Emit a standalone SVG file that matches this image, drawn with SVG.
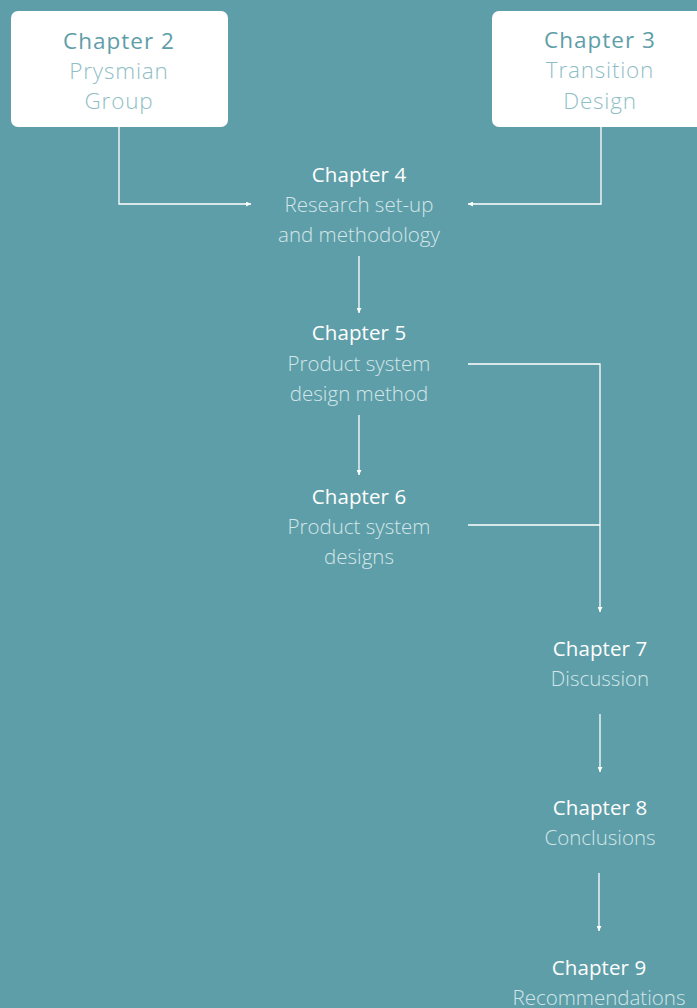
<svg xmlns="http://www.w3.org/2000/svg" width="697" height="1008" viewBox="0 0 697 1008">
  <style>
    .bg { fill: #5e9ea8; }
    .box { fill: #ffffff; }
    .t { font-family: "Open Sans", "Noto Sans", sans-serif; text-anchor: middle; }
    .h { font-size: 20.5px; font-weight: 400; fill: #ffffff; letter-spacing: 0.1px; }
    .s { font-size: 20.5px; font-weight: 300; fill: #d3e6e9; letter-spacing: 0px; }
    .hb { font-size: 22.5px; font-weight: 400; fill: #5e9ea8; letter-spacing: 1px; }
    .sb { font-size: 22.5px; font-weight: 300; fill: #8fbec5; letter-spacing: 0.8px; }
    .ln { fill: none; stroke: #ffffff; stroke-width: 1.3; }
  </style>
  <defs>
    <marker id="ah" viewBox="0 0 10 10" refX="10" refY="5" markerWidth="5" markerHeight="5" orient="auto" markerUnits="userSpaceOnUse">
      <path d="M0,0 L10,5 L0,10 z" fill="#ffffff"/>
    </marker>
  </defs>
  <rect class="bg" x="0" y="0" width="697" height="1008"/>

  <g id="connectors">
    <path class="ln" d="M119,127 V204 H251" marker-end="url(#ah)"/>
    <path class="ln" d="M601,127 V204 H468" marker-end="url(#ah)"/>
    <path class="ln" d="M359,256 V313" marker-end="url(#ah)"/>
    <path class="ln" d="M359,415 V475" marker-end="url(#ah)"/>
    <path class="ln" d="M468,364 H600 V612" marker-end="url(#ah)"/>
    <path class="ln" d="M468,525 H600"/>
    <path class="ln" d="M600,714 V772" marker-end="url(#ah)"/>
    <path class="ln" d="M599,873 V931" marker-end="url(#ah)"/>
  </g>

  <g id="ch2">
    <rect class="box" x="11" y="11" width="217" height="116" rx="7"/>
    <text class="t hb" x="119" y="49">Chapter 2</text>
    <text class="t sb" x="119" y="79">Prysmian</text>
    <text class="t sb" x="119" y="109">Group</text>
  </g>
  <g id="ch3">
    <rect class="box" x="492" y="11" width="215" height="116" rx="7"/>
    <text class="t hb" x="600" y="48">Chapter 3</text>
    <text class="t sb" x="600" y="78">Transition</text>
    <text class="t sb" x="600" y="109">Design</text>
  </g>
  <g id="ch4">
    <text class="t h" x="359" y="182">Chapter 4</text>
    <text class="t s" x="359" y="212">Research set-up</text>
    <text class="t s" x="359" y="242">and methodology</text>
  </g>
  <g id="ch5">
    <text class="t h" x="359" y="340">Chapter 5</text>
    <text class="t s" x="359" y="371">Product system</text>
    <text class="t s" x="359" y="401">design method</text>
  </g>
  <g id="ch6">
    <text class="t h" x="359" y="504">Chapter 6</text>
    <text class="t s" x="359" y="534">Product system</text>
    <text class="t s" x="359" y="564">designs</text>
  </g>
  <g id="ch7">
    <text class="t h" x="600" y="656">Chapter 7</text>
    <text class="t s" x="600" y="686">Discussion</text>
  </g>
  <g id="ch8">
    <text class="t h" x="600" y="815">Chapter 8</text>
    <text class="t s" x="600" y="845">Conclusions</text>
  </g>
  <g id="ch9">
    <text class="t h" x="599" y="975">Chapter 9</text>
    <text class="t s" x="599" y="1005">Recommendations</text>
  </g>
</svg>
